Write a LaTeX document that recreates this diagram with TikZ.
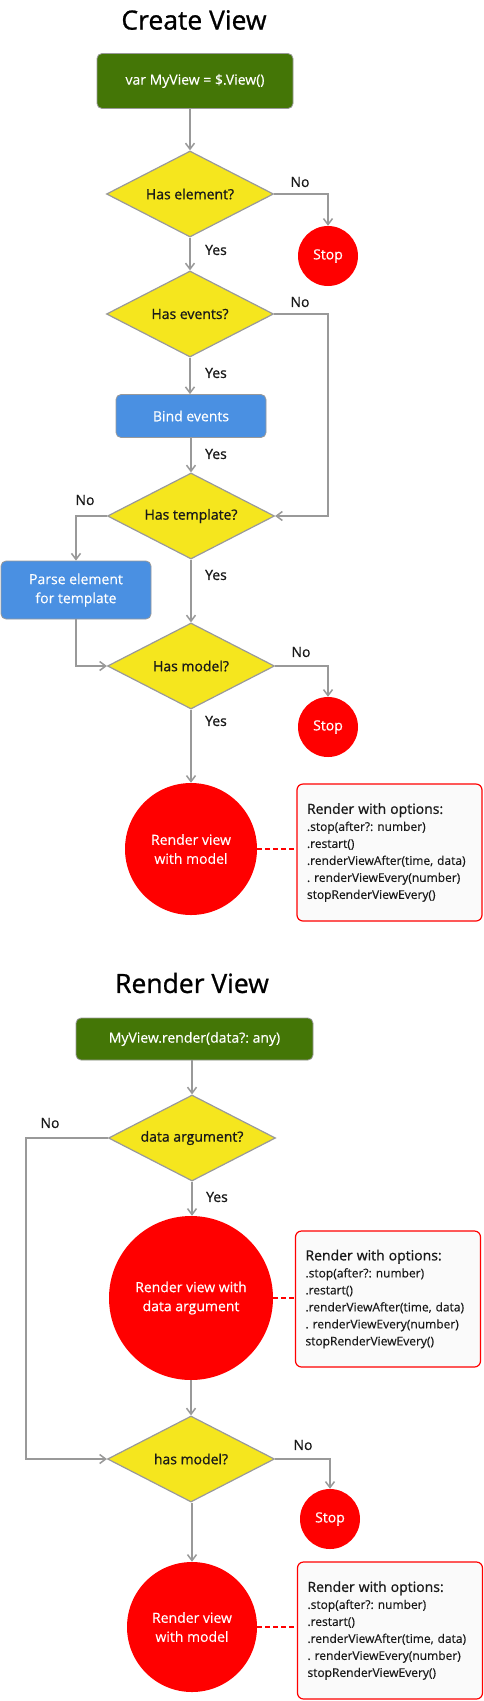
\documentclass[tikz,border=0pt]{standalone}
\usepackage{fontspec}
\setmainfont{Open Sans}[FakeBold=0.3]
\newfontfamily\semifont{Open Sans}[FakeBold=0.9]
\usetikzlibrary{shapes.geometric,arrows.meta,positioning}

\definecolor{viewgreen}{RGB}{68,118,6}
\definecolor{askyellow}{RGB}{245,230,30}
\definecolor{stepblue}{RGB}{74,144,226}
\definecolor{stopred}{RGB}{255,0,0}
\definecolor{linegray}{RGB}{153,153,153}
\definecolor{optfill}{RGB}{250,250,250}
\definecolor{inkgray}{RGB}{25,25,25}

\newcommand{\optlines}{%
  {\semifont\fontsize{14}{18}\selectfont Render with options:}\\
  .stop(after?: number)\\
  .restart()\\
  .renderViewAfter(time, data)\\
  . renderViewEvery(number)\\
  stopRenderViewEvery()}

\frenchspacing
\begin{document}
\begin{tikzpicture}[x=1pt,y=-1pt,
    title/.style={font=\semifont\fontsize{26.5}{30}\selectfont},
    startbox/.style={draw=linegray, line width=0.8pt, rounded corners=5pt,
      fill=viewgreen, text=white, font=\fontsize{14}{17}\selectfont},
    stepbox/.style={draw=linegray, line width=0.8pt, rounded corners=5pt,
      fill=stepblue, text=white, align=center, font=\fontsize{14}{19}\selectfont},
    ask/.style={diamond, draw=linegray, line width=1.2pt, fill=askyellow,
      minimum width=167pt, minimum height=86pt, inner sep=0pt, aspect=1.94,
      text=inkgray, font=\semifont\fontsize{14}{17}\selectfont},
    stopdot/.style={circle, fill=stopred, text=white, minimum size=60pt,
      inner sep=0pt, font=\fontsize{14}{17}\selectfont},
    renderdot/.style={circle, fill=stopred, text=white, inner sep=0pt,
      align=center, font=\fontsize{14}{19}\selectfont},
    optbox/.style={draw=stopred, line width=1.2pt, rounded corners=6pt,
      fill=optfill, text width=165pt, inner sep=10pt, minimum height=137pt,
      align=left, text=inkgray, font=\fontsize{12}{17}\selectfont},
    lbl/.style={text=inkgray, font=\semifont\fontsize{14}{17}\selectfont},
    flow/.style={draw=linegray, line width=1.5pt,
      -{Straight Barb[length=6pt,width=9pt]}},
    note/.style={draw=stopred, line width=1.5pt, dashed, dash pattern=on 5pt off 3pt}]

  \useasboundingbox[fill=white] (0,0) rectangle (483,1701);

  % Create View
  \node[title] (title1) at (194,20) {Create View};
  \node[startbox, minimum width=196pt, minimum height=55pt] (start1) at (195,81) {var MyView = \$.View()};
  \node[ask] (hasel) at (190,194) {Has element?};
  \node[stopdot] (stop1) at (328,256) {Stop};
  \node[ask] (hasev) at (190,314) {Has events?};
  \node[stepbox, minimum width=150pt, minimum height=43pt] (bind) at (191,416) {Bind events};
  \node[ask] (hastpl) at (191,516) {Has template?};
  \node[stepbox, minimum width=150pt, minimum height=58pt] (parse) at (76,590) {Parse element\\for template};
  \node[ask] (hasmod) at (191,666) {Has model?};
  \node[stopdot] (stop2) at (328,727) {Stop};
  \node[renderdot, minimum size=132pt] (render1) at (191,849) {Render view\\with model};
  \node[optbox] (opts1) at (389.5,852.5) {\optlines};
  \coordinate (rloop) at (328,314);

  \node[lbl] (no1) at (300,182) {No};
  \node[lbl] (yes1) at (216,250) {Yes};
  \node[lbl] (no2) at (300,302) {No};
  \node[lbl] (yes2) at (216,373) {Yes};
  \node[lbl] (yes3) at (216,454) {Yes};
  \node[lbl] (no3) at (85,500) {No};
  \node[lbl] (yes4) at (216,575) {Yes};
  \node[lbl] (no4) at (301,652) {No};
  \node[lbl] (yes5) at (216,721) {Yes};

  \draw[flow] (hasel.north |- start1.south) -- (hasel.north);
  \draw[flow] (hasel.east) -| (stop1.north);
  \draw[flow] (hasel.south) -- (hasev.north);
  \draw[flow] (hasev.east) -- (rloop) |- (hastpl.east);
  \draw[flow] (hasev.south) -- (hasev.south |- bind.north);
  \draw[flow] (hastpl.north |- bind.south) -- (hastpl.north);
  \draw[flow] (hastpl.west) -| (parse.north);
  \draw[flow] (hastpl.south) -- (hasmod.north);
  \draw[flow] (parse.south) |- (hasmod.west);
  \draw[flow] (hasmod.east) -| (stop2.north);
  \draw[flow] (hasmod.south) -- (render1.north);
  \draw[note] (render1.east) -- (opts1.west |- render1.east);

  % Render View
  \node[title] (title2) at (192,983) {Render View};
  \node[startbox, minimum width=237pt, minimum height=42pt] (start2) at (194.5,1039) {MyView.render(data?: any)};
  \node[ask] (dataarg) at (192,1138) {data argument?};
  \node[renderdot, minimum size=164pt] (render2) at (191,1298) {Render view with\\data argument};
  \node[optbox, minimum height=136pt] (opts2) at (388,1299) {\optlines};
  \node[ask] (hasmod2) at (191,1459) {has model?};
  \node[stopdot] (stop3) at (330,1519) {Stop};
  \node[renderdot, minimum size=130pt] (render3) at (192,1627) {Render view\\with model};
  \node[optbox] (opts3) at (390,1630.5) {\optlines};
  \coordinate (lloop) at (26,1138);

  \node[lbl] (no5) at (50,1123) {No};
  \node[lbl] (yes6) at (217,1197) {Yes};
  \node[lbl] (no6) at (303,1445) {No};

  \draw[flow] (dataarg.north |- start2.south) -- (dataarg.north);
  \draw[flow] (dataarg.west) -- (lloop) |- (hasmod2.west);
  \draw[flow] (dataarg.south) -- (render2.north -| dataarg.south);
  \draw[flow] (render2.south) -- (hasmod2.north -| render2.south);
  \draw[flow] (hasmod2.east) -| (stop3.north);
  \draw[flow] (hasmod2.south -| render3.north) -- (render3.north);
  \draw[note] (render2.east) -- (opts2.west |- render2.east);
  \draw[note] (render3.east) -- (opts3.west |- render3.east);
\end{tikzpicture}
\end{document}
